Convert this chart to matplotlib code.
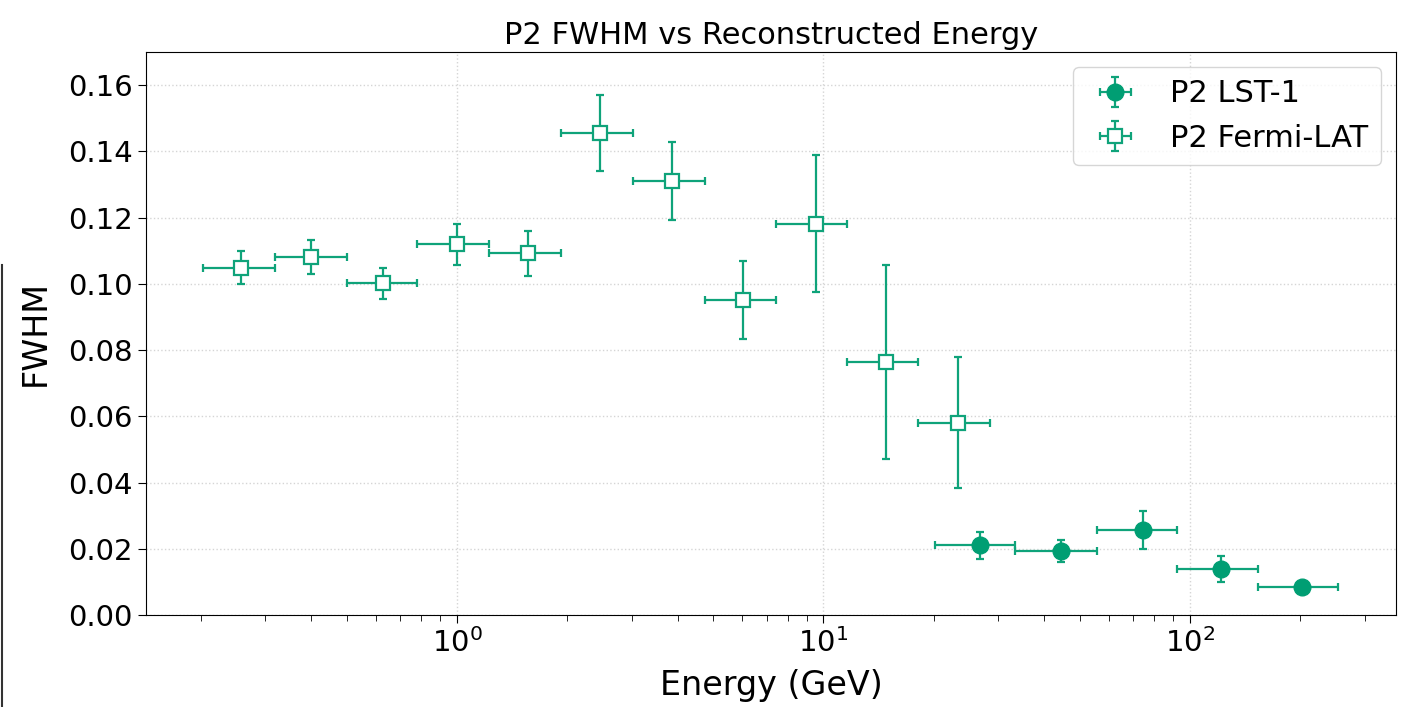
import matplotlib
matplotlib.use("Agg")
import matplotlib.pyplot as plt
from matplotlib.lines import Line2D
import numpy as np

# Fermi-LAT bins (GeV)
fermi_e = [0.257, 0.40, 0.63, 1.00, 1.56, 2.46, 3.86, 6.03, 9.55, 14.8, 23.3]
fermi_lo = [0.203, 0.319, 0.50, 0.778, 1.22, 1.92, 3.02, 4.75, 7.4, 11.6, 18.1]
fermi_hi = [0.319, 0.50, 0.778, 1.22, 1.92, 3.02, 4.75, 7.4, 11.6, 18.1, 28.5]
fermi_fwhm = [0.1049, 0.1082, 0.1001, 0.1119, 0.1092, 0.1456, 0.1310, 0.0951, 0.1182, 0.0765, 0.0581]
fermi_err = [0.0049, 0.0051, 0.0047, 0.0062, 0.0067, 0.0114, 0.0117, 0.0119, 0.0207, 0.0293, 0.0197]

# LST-1 bins (GeV)
lst_e = [26.7, 44.5, 74.4, 121.5, 202.0]
lst_lo = [20.1, 33.3, 55.7, 92.2, 153.0]
lst_hi = [33.3, 55.7, 92.2, 153.0, 253.0]
lst_fwhm = [0.0211, 0.0193, 0.0257, 0.0139, 0.0085]
lst_err = [0.0041, 0.0034, 0.0058, 0.0039, 0.0008]

color = "#0fa37a"

fig, ax = plt.subplots(figsize=(14.08, 7.07), dpi=100)

lst_xerr = [np.array(lst_e) - np.array(lst_lo), np.array(lst_hi) - np.array(lst_e)]
fermi_xerr = [np.array(fermi_e) - np.array(fermi_lo), np.array(fermi_hi) - np.array(fermi_e)]

ax.errorbar(lst_e, lst_fwhm, xerr=lst_xerr, yerr=lst_err, fmt='o',
            color=color, mfc="#009E73", mec="#009E73", ms=12,
            elinewidth=1.6, capsize=3, capthick=1.6, label="P2 LST-1")
ax.errorbar(fermi_e, fermi_fwhm, xerr=fermi_xerr, yerr=fermi_err, fmt='s',
            color=color, mfc="white", mec=color, mew=1.6, ms=10,
            elinewidth=1.6, capsize=3, capthick=1.6, label="P2 Fermi-LAT")

ax.set_xscale("log")
ax.set_xlim(0.1417, 365)
ax.set_ylim(0, 0.17)
ax.set_yticks(np.arange(0, 0.161, 0.02))
ax.set_yticklabels([f"{v:.2f}" for v in np.arange(0, 0.161, 0.02)])

ax.grid(True, which="major", linestyle=":", color="#d5d5d5", linewidth=1)
ax.tick_params(axis="both", which="major", labelsize=21, length=6)
ax.tick_params(axis="x", which="minor", length=4)

ax.set_xlabel("Energy (GeV)", fontsize=24, labelpad=8)
ax.set_ylabel("FWHM", fontsize=24, labelpad=12)
ax.set_title("P2 FWHM vs Reconstructed Energy", fontsize=22)

ax.legend(loc="upper right", fontsize=22, framealpha=0.8)

# stray border line at the left edge of the crop
fig.add_artist(Line2D([0.0015, 0.0015], [0, 1 - 265 / 707], transform=fig.transFigure,
                      color="#333333", linewidth=1.5))

plt.subplots_adjust(left=146 / 1408, right=1396 / 1408, top=1 - 52 / 707, bottom=1 - 615 / 707)
plt.savefig("out.png", dpi=100)
plt.close()
